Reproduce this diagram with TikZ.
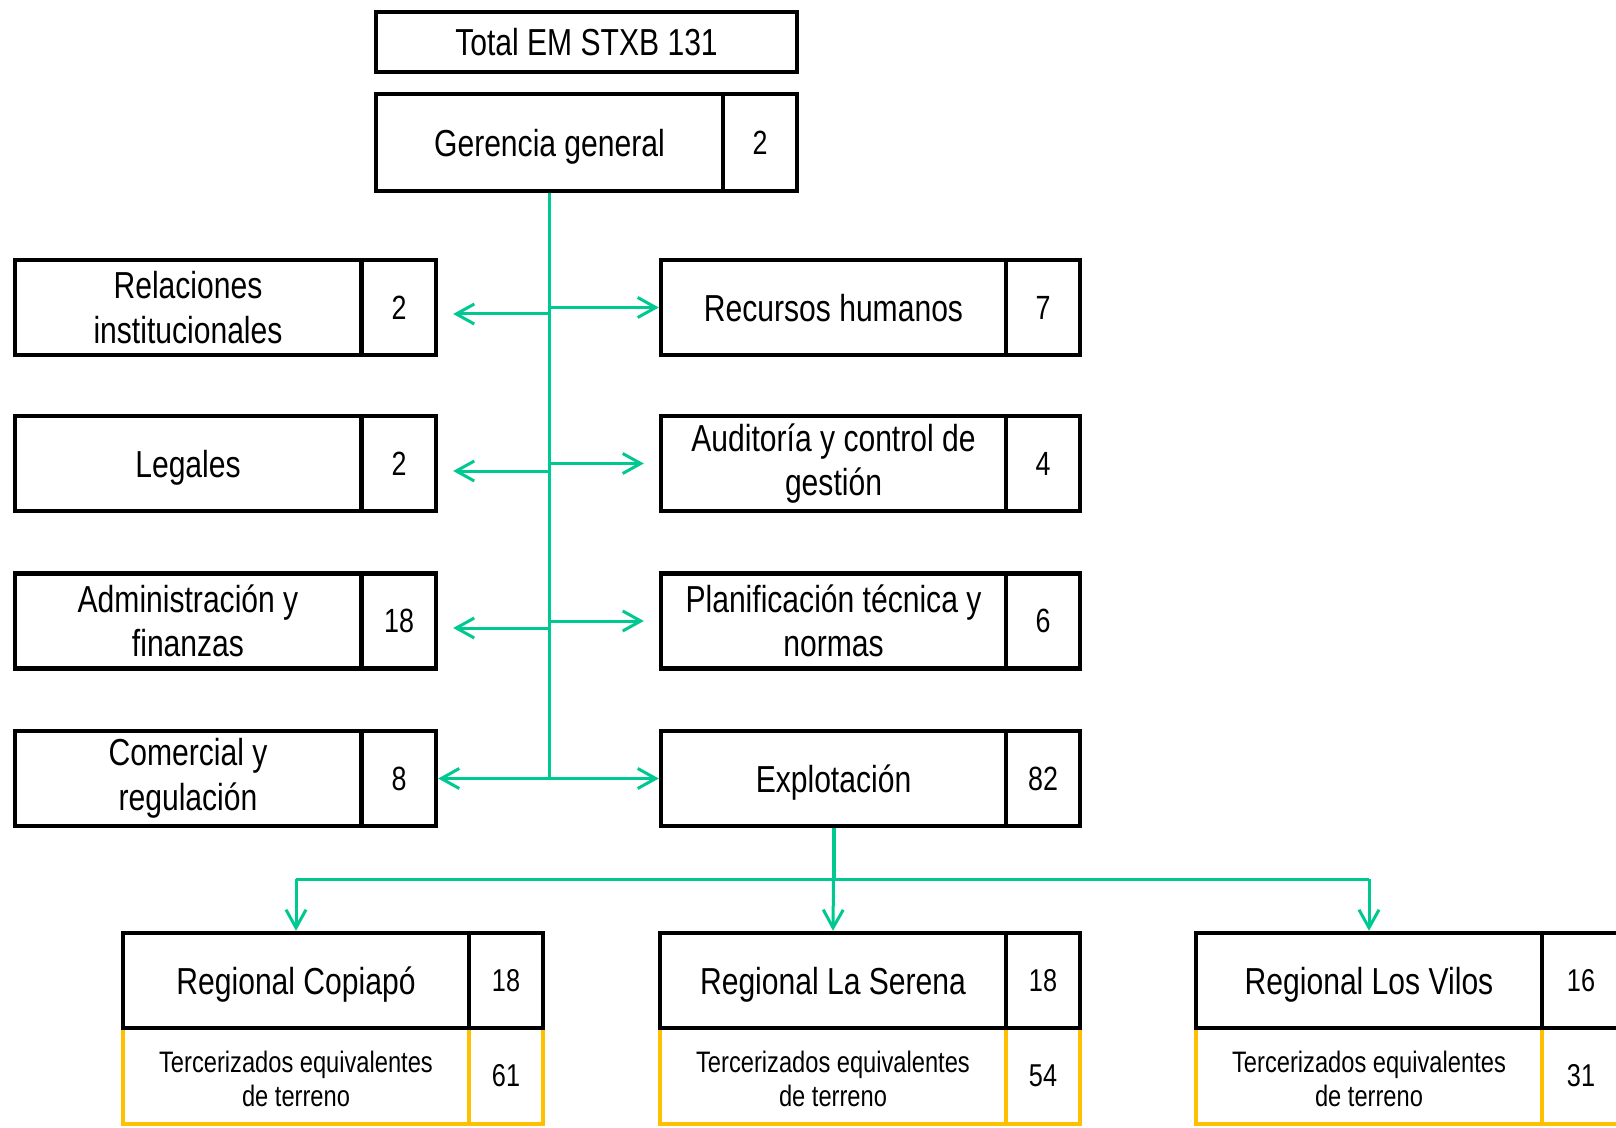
\documentclass[tikz,border=0pt]{standalone}
\usepackage{fontspec}
\setmainfont{Liberation Sans}[FakeStretch=0.8]
\usetikzlibrary{arrows.meta,calc}
\definecolor{linkgreen}{RGB}{0,200,145}
\definecolor{outyellow}{RGB}{255,192,0}

\begin{document}
\begin{tikzpicture}[x=0.5pt,y=-0.5pt,
  box/.style={draw=black, line width=2.2pt, inner sep=0pt, align=center,
              minimum height=47.5pt, font=\fontsize{18.8}{22.3}\selectfont},
  wide/.style={box, minimum width=173pt},
  single/.style={text depth=0pt},
  numbox/.style={box, minimum width=37pt, font=\fontsize{16.8}{20}\selectfont},
  tbox/.style={draw=outyellow, line width=1.9pt, inner sep=0pt, align=center,
               minimum height=48pt, minimum width=173pt,
               font=\fontsize{14.8}{16.7}\selectfont},
  outsourced/.style={tbox, label={[align=center, inner sep=0pt, yshift=-1.5pt,
               font=\fontsize{14.8}{16.7}\selectfont]center:{Tercerizados equivalentes\\de terreno}}},
  tnum/.style={tbox, minimum width=37pt, font=\fontsize{15.8}{18}\selectfont},
  rnum/.style={box, minimum width=37pt, font=\fontsize{15.8}{18}\selectfont},
  link/.style={draw=linkgreen, line width=1.5pt},
  arr/.style={link, -{Straight Barb[length=9pt,width=10pt]}}]

\useasboundingbox (0,0) rectangle (1616,1128);

% head of the organisation
\node[box, single, minimum width=210.5pt, minimum height=30pt] (total) at (586.5,42) {Total EM STXB 131};
\node[box, single, minimum width=173.5pt, minimum height=48.5pt] (ger) at (549.5,142.5) {Gerencia general};
\node[numbox, minimum height=48.5pt] (gern) at (760,142.5) {2};

% left column
\node[wide] (rel) at (188,307.5) {Relaciones\\institucionales};
\node[numbox] (reln) at (399,307.5) {2};
\node[wide, single] (leg) at (188,463.5) {Legales};
\node[numbox] (legn) at (399,463.5) {2};
\node[wide] (adm) at (188,621) {Administración y\\finanzas};
\node[numbox] (admn) at (399,621) {18};
\node[wide] (com) at (188,778.5) {Comercial y\\regulación};
\node[numbox] (comn) at (399,778.5) {8};

% right column
\node[wide, single, minimum width=172.5pt] (rec) at (833.5,307.5) {Recursos humanos};
\node[numbox] (recn) at (1043,307.5) {7};
\node[wide, minimum width=172.5pt] (aud) at (833.5,463.5) {Auditoría y control de\\gestión};
\node[numbox] (audn) at (1043,463.5) {4};
\node[wide, minimum width=172.5pt] (pla) at (833.5,621) {Planificación técnica y\\normas};
\node[numbox] (plan) at (1043,621) {6};
\node[wide, single, minimum width=172.5pt] (exp) at (833.5,778.5) {Explotación};
\node[numbox] (expn) at (1043,778.5) {82};

% regional offices: outsourced staff below, own staff on top
\node[outsourced] (ter1) at (296,1076) {};
\node[tnum] (ter1n) at (506,1076) {61};
\node[outsourced] (ter2) at (833,1076) {};
\node[tnum] (ter2n) at (1043,1076) {54};
\node[outsourced] (ter3) at (1369,1076) {};
\node[tnum, minimum width=39pt] (ter3n) at (1581,1076) {31};

\node[wide, single] (reg1) at (296,980.5) {Regional Copiapó};
\node[rnum] (reg1n) at (506,980.5) {18};
\node[wide, single] (reg2) at (833,980.5) {Regional La Serena};
\node[rnum] (reg2n) at (1043,980.5) {18};
\node[wide, single] (reg3) at (1369,980.5) {Regional Los Vilos};
\node[rnum, minimum width=39pt] (reg3n) at (1581,980.5) {16};

% trunk from the general management
\draw[link] (ger.south) -- (ger.south |- com.east);

% branches to the left
\draw[arr] (ger.south |- 0,314) -- ($(reln.east |- 0,314)+(15,0)$);
\draw[arr] (ger.south |- 0,471) -- ($(legn.east |- 0,471)+(15,0)$);
\draw[arr] (ger.south |- 0,628) -- ($(admn.east |- 0,628)+(15,0)$);
\draw[arr] (ger.south |- com.east) -- (comn.east);

% branches to the right
\draw[arr] (ger.south |- rec.west) -- (rec.west);
\draw[arr] (ger.south |- aud.west) -- ($(aud.west)+(-15,0)$);
\draw[arr] (ger.south |- pla.west) -- ($(pla.west)+(-15,0)$);
\draw[arr] (ger.south |- exp.west) -- (exp.west);

% operations down to the regional offices
\coordinate (hub) at (exp.south |- 0,879);
\draw[link, line width=2pt] (exp.south) -- (hub);
\draw[link] (reg1.north |- hub) -- (reg3.north |- hub);
\draw[arr] (reg1.north |- hub) -- (reg1.north);
\draw[arr] (hub) -- (reg2.north);
\draw[arr] (reg3.north |- hub) -- (reg3.north);

\end{tikzpicture}
\end{document}
